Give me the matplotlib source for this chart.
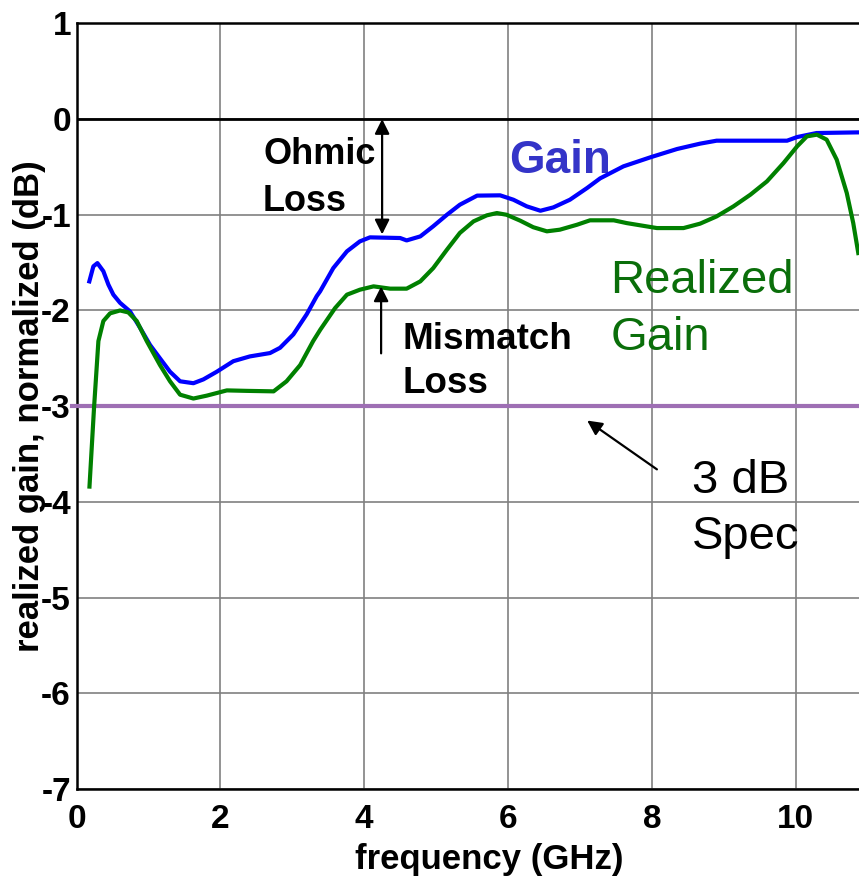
import matplotlib
matplotlib.use("Agg")
import matplotlib.pyplot as plt

# ---------------- data ----------------
freq_gain = [0.178, 0.234, 0.29, 0.373, 0.443, 0.512, 0.605, 0.744, 0.883, 1.022,
             1.16, 1.30, 1.44, 1.625, 1.764, 1.95, 2.18, 2.41, 2.69, 2.83,
             3.015, 3.20, 3.34, 3.387, 3.57, 3.76, 3.94, 4.08, 4.50, 4.59,
             4.78, 4.96, 5.15, 5.33, 5.57, 5.89, 6.075, 6.26, 6.45, 6.63,
             6.86, 7.10, 7.28, 7.605, 7.99, 8.35, 8.67, 8.90, 9.88, 10.02,
             10.29, 10.88]
gain = [-1.696, -1.539, -1.505, -1.59, -1.73, -1.835, -1.92, -2.01, -2.18, -2.36,
        -2.50, -2.64, -2.74, -2.76, -2.72, -2.64, -2.53, -2.48, -2.445, -2.39,
        -2.25, -2.04, -1.85, -1.80, -1.557, -1.382, -1.278, -1.236, -1.243, -1.268,
        -1.226, -1.12, -1.00, -0.895, -0.80, -0.797, -0.843, -0.912, -0.958, -0.923,
        -0.843, -0.72, -0.62, -0.494, -0.397, -0.313, -0.257, -0.226, -0.226, -0.188,
        -0.146, -0.139]

freq_real = [0.18, 0.243, 0.304, 0.373, 0.466, 0.605, 0.72, 0.837, 0.976, 1.16,
             1.30, 1.44, 1.625, 1.81, 2.09, 2.37, 2.74, 2.92, 3.11, 3.29,
             3.39, 3.595, 3.76, 3.94, 4.13, 4.36, 4.59, 4.78, 4.96, 5.15,
             5.33, 5.52, 5.705, 5.845, 5.98, 6.17, 6.35, 6.54, 6.72, 6.96,
             7.14, 7.47, 7.65, 8.07, 8.44, 8.67, 8.90, 9.135, 9.37, 9.60,
             9.83, 10.02, 10.155, 10.295, 10.43, 10.57, 10.71, 10.80, 10.87]
realized_gain = [-3.84, -3.02, -2.32, -2.11, -2.03, -2.00, -2.02, -2.11, -2.32, -2.57,
                 -2.74, -2.88, -2.92, -2.89, -2.835, -2.84, -2.845, -2.74, -2.57, -2.32,
                 -2.20, -1.975, -1.835, -1.783, -1.748, -1.772, -1.772, -1.696, -1.557, -1.365,
                 -1.19, -1.069, -1.006, -0.982, -1.00, -1.062, -1.13, -1.173, -1.156, -1.104,
                 -1.058, -1.058, -1.087, -1.139, -1.139, -1.093, -1.017, -0.912, -0.79, -0.651,
                 -0.46, -0.285, -0.181, -0.163, -0.215, -0.424, -0.773, -1.087, -1.40]

spec_level = -3
x_ticks = [0, 2, 4, 6, 8, 10]
x_tick_labels = ["0", "2", "4", "6", "8", "10"]
y_ticks = [-7, -6, -5, -4, -3, -2, -1, 0, 1]
y_tick_labels = ["-7", "-6", "-5", "-4", "-3", "-2", "-1", "0", "1"]

# ---------------- figure ----------------
plt.rcParams['font.family'] = ['Liberation Sans', 'DejaVu Sans']
plt.rcParams['axes.unicode_minus'] = False

fig = plt.figure(figsize=(8.59, 8.81), dpi=100)
ax = fig.add_axes([0.0891, 0.1044, 0.9109, 0.8691])
ax.set_xlim(0, 10.88)
ax.set_ylim(-7, 1)

ax.set_xticks(x_ticks)
ax.set_xticklabels(x_tick_labels, fontsize=24, fontweight='bold')
ax.set_yticks(y_ticks)
ax.set_yticklabels(y_tick_labels, fontsize=24, fontweight='bold')
ax.tick_params(axis='both', length=0)
ax.tick_params(axis='x', pad=11)
ax.tick_params(axis='y', pad=4)

ax.grid(True, color='#808080', linewidth=1.2)
ax.set_axisbelow(True)
for side in ['left', 'bottom', 'top']:
    ax.spines[side].set_color('black')
    ax.spines[side].set_linewidth(1.8)
ax.spines['right'].set_visible(False)

ax.axhline(0, color='black', linewidth=2.0, zorder=2)
ax.plot([-0.06, 10.88], [spec_level, spec_level], color='#9e6fb4', linewidth=3.0,
        clip_on=False, zorder=3)

ax.plot(freq_gain, gain, color='#0000ff', linewidth=3.0, zorder=4,
        solid_joinstyle='round')
ax.plot(freq_real, realized_gain, color='#008000', linewidth=3.0, zorder=4,
        solid_joinstyle='round')

ax.set_xlabel('frequency (GHz)', fontsize=25, fontweight='bold')
ax.xaxis.set_label_coords(0.527, -0.071)
ax.set_ylabel('realized gain, normalized (dB)', fontsize=25, fontweight='bold')
ax.yaxis.set_label_coords(-0.039, 0.5)

# ---------------- annotations ----------------
ax.text(2.594, -0.473, 'Ohmic', fontsize=26, fontweight='bold', color='black', va='baseline')
ax.text(2.594, -0.964, 'Loss', fontsize=26, fontweight='bold', color='black', va='baseline')
ax.text(4.527, -2.406, 'Mismatch', fontsize=26.5, fontweight='bold', color='black', va='baseline')
ax.text(4.527, -2.866, 'Loss', fontsize=26.5, fontweight='bold', color='black', va='baseline')
ax.text(6.02, -0.567, 'Gain', fontsize=33, fontweight='bold', color='#3434c8', va='baseline')
ax.text(7.42, -1.821, 'Realized', fontsize=34, color='#0a6e0a', va='baseline')
ax.text(7.42, -2.417, 'Gain', fontsize=34, color='#0a6e0a', va='baseline')
ax.text(8.56, -3.911, '3 dB', fontsize=34, color='black', va='baseline')
ax.text(8.56, -4.496, 'Spec', fontsize=34, color='black', va='baseline')

ax.annotate('', xy=(4.249, -1.205), xytext=(4.249, 0.0),
            arrowprops=dict(arrowstyle='<|-|>', color='black', lw=1.6,
                            mutation_scale=22, shrinkA=0, shrinkB=0), zorder=5)
ax.annotate('', xy=(4.235, -1.749), xytext=(4.235, -2.448),
            arrowprops=dict(arrowstyle='-|>', color='black', lw=1.6,
                            mutation_scale=22, shrinkA=0, shrinkB=0), zorder=5)
ax.annotate('', xy=(7.10, -3.15), xytext=(8.07, -3.66),
            arrowprops=dict(arrowstyle='-|>', color='black', lw=1.6,
                            mutation_scale=22, shrinkA=0, shrinkB=0), zorder=5)

fig.savefig('out.png', dpi=100)
